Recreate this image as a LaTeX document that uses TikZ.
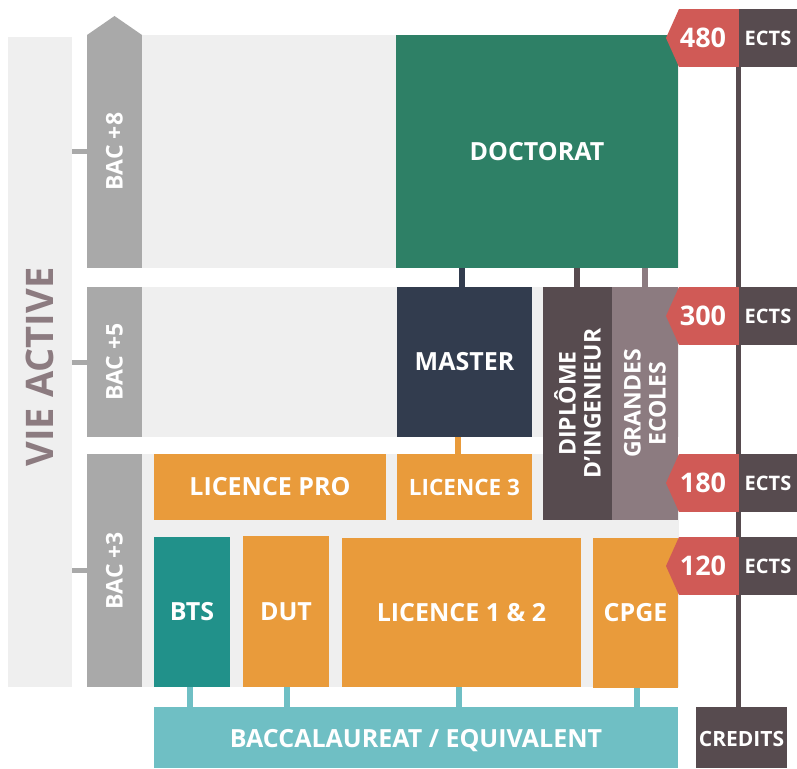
\documentclass[tikz,border=0pt]{standalone}
\usepackage{fontspec}
\setmainfont{Open Sans}
\definecolor{cbg}{HTML}{EFEFEF}
\definecolor{cgrey}{HTML}{A9A9A9}
\definecolor{cgreen}{HTML}{2E8066}
\definecolor{cmaster}{HTML}{323C4E}
\definecolor{cdark}{HTML}{574B4F}
\definecolor{cmauve}{HTML}{8C7B80}
\definecolor{corange}{HTML}{E99B3B}
\definecolor{cteal}{HTML}{21918A}
\definecolor{cbac}{HTML}{6FBFC4}
\definecolor{cred}{HTML}{D05A56}
\pgfdeclarelayer{bg}
\pgfsetlayers{bg,main}
\begin{document}
\begin{tikzpicture}[x=1pt,y=-1pt,
  blk/.style={inner sep=0pt, outer sep=0pt, anchor=north west, draw=none},
  lbl/.style={text=white, inner sep=0pt, align=center, font=\fontsize{25}{26}\selectfont\bfseries},
  bactxt/.style={text=white, inner sep=0pt, rotate=90, font=\fontsize{23}{24}\selectfont\bfseries},
  conn/.style={line width=5.5pt},
  tick/.style={line width=5pt, draw=cgrey},
  numbox/.style={blk, fill=cred, minimum width=60pt, minimum height=58pt},
  numtxt/.style={text=white, inner sep=0pt, font=\fontsize{27}{28}\selectfont\bfseries},
  ectsbox/.style={blk, fill=cdark, minimum width=58pt, minimum height=58pt, text=white,
     font=\fontsize{20}{21}\selectfont\bfseries}
]
\useasboundingbox (0,0) rectangle (797,768);
% background bands
\fill[cbg] (142,35) rectangle (679,268);
\fill[cbg] (142,287) rectangle (679,437);
\fill[cbg] (142,454) rectangle (679,687);
% vie active
\node[blk, fill=cbg, minimum width=64pt, minimum height=650pt] (vie) at (8,37) {};
\node[rotate=90, text=cmauve, inner sep=0pt, font=\fontsize{38}{39}\selectfont\bfseries] (vietxt) at (40,367) {VIE ACTIVE};
% BAC columns
\node[blk, fill=cgrey, minimum width=55pt, minimum height=233pt] (bac8) at (87,35) {};
\fill[cgrey] (bac8.north west) -- ++(27.5,-19) -- (bac8.north east) -- cycle;
\node[bactxt] (bac8t) at (bac8.center) {BAC +8};
\node[blk, fill=cgrey, minimum width=55pt, minimum height=150pt] (bac5) at (87,287) {};
\node[bactxt] (bac5t) at (bac5.center) {BAC +5};
\node[blk, fill=cgrey, minimum width=55pt, minimum height=233pt] (bac3) at (87,454) {};
\node[bactxt] (bac3t) at (bac3.center) {BAC +3};
\draw[tick] (vie.east |- bac8.west) -- (bac8.west);
\draw[tick] (vie.east |- bac5.west) -- (bac5.west);
\draw[tick] (vie.east |- bac3.west) -- (bac3.west);
% boxes
\node[blk, fill=cgreen, minimum width=282pt, minimum height=233pt] (doc) at (396,35) {};
\node[lbl] at (doc.center) {DOCTORAT};
\node[blk, fill=cmaster, minimum width=135pt, minimum height=150pt] (master) at (397,287) {};
\node[lbl] at (master.center) {MASTER};
\node[blk, fill=cdark, minimum width=69pt, minimum height=233pt] (dip) at (543,287) {};
\node[lbl, rotate=90, font=\fontsize{23}{25}\selectfont\bfseries] at (dip.center) {DIPLÔME\\D'INGENIEUR};
\node[blk, fill=cmauve, minimum width=66pt, minimum height=233pt] (ge) at (612,287) {};
\node[lbl, rotate=90, font=\fontsize{23}{25}\selectfont\bfseries] at (ge.center) {GRANDES\\ECOLES};
\node[blk, fill=corange, minimum width=232pt, minimum height=66pt] (lpro) at (154,454) {};
\node[lbl] at (lpro.center) {LICENCE PRO};
\node[blk, fill=corange, minimum width=135pt, minimum height=66pt] (l3) at (397,454) {};
\node[lbl, font=\fontsize{22.5}{23}\selectfont\bfseries] at (l3.center) {LICENCE 3};
\node[blk, fill=cteal, minimum width=76pt, minimum height=150pt] (bts) at (154,537) {};
\node[lbl] at (bts.center) {BTS};
\node[blk, fill=corange, minimum width=86pt, minimum height=151pt] (dut) at (243,536) {};
\node[lbl] at (dut.center) {DUT};
\node[blk, fill=corange, minimum width=239pt, minimum height=149pt] (l12) at (342,538) {};
\node[lbl] at (l12.center) {LICENCE 1 \& 2};
\node[blk, fill=corange, minimum width=85pt, minimum height=150pt] (cpge) at (593,538) {};
\node[lbl] at (cpge.center) {CPGE};
\node[blk, fill=cbac, minimum width=524pt, minimum height=61pt] (bacc) at (154,707) {};
\node[lbl] at ([yshift=-3]bacc.center) {BACCALAUREAT / EQUIVALENT};
\node[blk, fill=cdark, minimum width=91pt, minimum height=61pt] (cred) at (696,707) {};
\node[lbl, font=\fontsize{21}{22}\selectfont\bfseries] at ([yshift=-1]cred.center) {CREDITS};
% ECTS tags
\foreach \v/\y in {480/9, 300/287, 180/454, 120/537}{
  \node[ectsbox] (e\v) at (739,\y) {ECTS};
  \node[numbox] (t\v) at (679,\y) {};
  \fill[cred] (t\v.north west) -- ++(-13,29) -- (t\v.south west) -- cycle;
  \node[numtxt] (n\v) at ([xshift=-6]t\v.center) {\v};
}
% connectors
\begin{pgfonlayer}{bg}
\coordinate (kc) at (738.5,0);
\draw[conn, draw=cdark] (e480.south -| kc) -- (cred.north -| kc);
\coordinate (k1) at (462,0);
\draw[conn, draw=cmaster] (doc.south -| k1) -- (master.north -| k1);
\coordinate (k2) at (577,0);
\draw[conn, draw=cdark] (doc.south -| k2) -- (dip.north -| k2);
\coordinate (k3) at (645,0);
\draw[conn, draw=cmauve] (doc.south -| k3) -- (ge.north -| k3);
\coordinate (k4) at (458,0);
\draw[conn, draw=corange] (master.south -| k4) -- (l3.north -| k4);
\draw[conn, draw=corange] (l3.south -| k4) -- (l12.north -| k4);
\coordinate (k5) at (190,0);
\draw[conn, draw=cteal] (lpro.south -| k5) -- (bts.north -| k5);
\coordinate (k6) at (287,0);
\draw[conn, draw=corange] (lpro.south -| k6) -- (dut.north -| k6);
\coordinate (k7) at (563,0);
\draw[conn, draw=corange] (dip.south -| k7) -- (l12.north -| k7);
\coordinate (k8) at (636,0);
\draw[conn, draw=corange] (ge.south -| k8) -- (cpge.north -| k8);
\draw[conn, draw=cbac] (bts.south -| k5) -- (bacc.north -| k5);
\draw[conn, draw=cbac] (dut.south -| k6) -- (bacc.north -| k6);
\coordinate (k9) at (459,0);
\draw[conn, draw=cbac] (l12.south -| k9) -- (bacc.north -| k9);
\coordinate (k10) at (637,0);
\draw[conn, draw=cbac] (cpge.south -| k10) -- (bacc.north -| k10);
\end{pgfonlayer}
\end{tikzpicture}
\end{document}
